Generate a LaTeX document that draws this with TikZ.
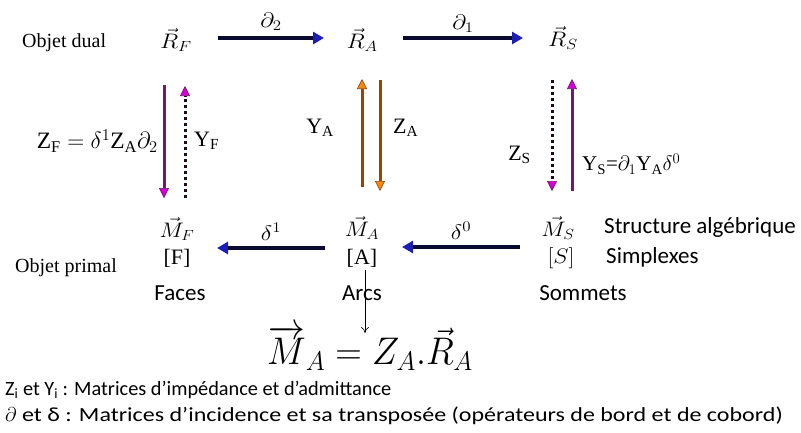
\documentclass[tikz,border=0pt]{standalone}
\usepackage{fix-cm}
\usepackage{fontspec}
\setmainfont{Liberation Serif}
\newfontfamily\calfont{Carlito}
\newfontfamily\calwide[FakeStretch=1.2]{Carlito}
\usetikzlibrary{arrows.meta,calc}
\definecolor{navyline}{HTML}{0A0A30}
\definecolor{bluetip}{HTML}{1E1EB4}
\definecolor{purpline}{HTML}{701870}
\definecolor{magtip}{HTML}{D400D4}
\definecolor{orline}{HTML}{9A4404}
\definecolor{ortip}{HTML}{F08A10}
\definecolor{dotcol}{HTML}{1A0A1A}
\tikzset{
  harrow/.style={line width=3.4pt, draw=navyline, -{Triangle[length=11pt,width=12pt,color=bluetip]}},
  purparrow/.style={line width=3pt, draw=purpline, -{Triangle[length=10pt,width=10pt,color=purpline,fill=magtip,line width=0.6pt]}},
  dotarrow/.style={line width=3pt, draw=dotcol, dash pattern=on 3pt off 3pt, -{Triangle[length=10pt,width=10pt,color=purpline,fill=magtip,line width=0.6pt]}},
  orarrow/.style={line width=3pt, draw=orline, -{Triangle[length=10pt,width=10pt,color=orline,fill=ortip,line width=0.6pt]}},
  mathlbl/.style={inner sep=0pt, font=\fontsize{21}{24}\selectfont},
  serlbl/.style={inner sep=0pt, font=\fontsize{22}{25}\selectfont},
  objlbl/.style={inner sep=0pt, anchor=west, font=\fontsize{20}{23}\selectfont},
  callbl/.style={inner sep=0pt, font=\calfont\fontsize{23}{26}\selectfont},
  notelbl/.style={inner sep=0pt, anchor=west, font=\calfont\fontsize{20.3}{24}\selectfont},
}
\begin{document}
\begin{tikzpicture}[x=1pt,y=-1pt]
\useasboundingbox (0,0) rectangle (801,432);
% top row
\node[objlbl] (dual) at (22,43) {Objet dual};
\node[mathlbl] (RF) at (176,40) {\scalebox{1.15}[1]{$\vec{R}_F$}};
\node[mathlbl] (RA) at (362,40) {\scalebox{1.15}[1]{$\vec{R}_A$}};
\node[mathlbl] (RS) at (563,38) {\scalebox{1.15}[1]{$\vec{R}_S$}};
% bottom row
\node[objlbl] (primal) at (15,268) {Objet primal};
\node[mathlbl] (MF) at (177,229) {\scalebox{1.1}[1]{$\vec{M}_F$}};
\node[mathlbl] (MA) at (362,228) {\scalebox{1.1}[1]{$\vec{M}_A$}};
\node[mathlbl] (MS) at (558,228) {\scalebox{1.1}[1]{$\vec{M}_S$}};
\node[serlbl] (FF) at (177,258) {[F]};
\node[serlbl] (FA) at (362,258) {[A]};
\node[mathlbl] (FS) at (561,258) {\scalebox{1.1}[1]{$[S]$}};
\node[callbl] (faces) at (180,293) {Faces};
\node[callbl] (arcs) at (362,293) {Arcs};
\node[callbl] (sommets) at (583,293) {Sommets};
\node[callbl, anchor=west] (struct) at (604,227) {Structure algébrique};
\node[callbl, anchor=west] (simpl) at (606,257) {Simplexes};
% horizontal arrows
\draw[harrow] ($(RF)+(42,-2)$) -- node[mathlbl, above=6pt] (d2) {\scalebox{1.15}[1]{$\partial_2$}} ($(RA)+(-38,-2)$);
\draw[harrow] ($(RA)+(41,-2)$) -- node[mathlbl, above=4pt] (d1) {\scalebox{1.15}[1]{$\partial_1$}} ($(RS)+(-40,0)$);
\draw[harrow] ($(MA)+(-37,20)$) -- node[mathlbl, above=6pt] (del1) {\scalebox{1.15}[1]{$\delta^1$}} ($(MF)+(40,19)$);
\draw[harrow] ($(MS)+(-38,19)$) -- node[mathlbl, above=6pt] (del0) {\scalebox{1.15}[1]{$\delta^0$}} ($(MA)+(40,19)$);
% vertical arrows left
\draw[purparrow] ($(RF)+(-12,45)$) -- ($(MF)+(-13,-31)$);
\draw[dotarrow] ($(MF)+(8,-31)$) -- ($(RF)+(9,46)$);
\node[inner sep=0pt, anchor=east, font=\fontsize{23.5}{26}\selectfont] (zf) at (158,141) {$\mathrm{Z_F}=\delta^1\mathrm{Z_A}\partial_2$};
\node[serlbl, anchor=west] (yf) at (194,141) {Y\textsubscript{F}};
% middle
\draw[orarrow] ($(MA)+(0,-41)$) -- ($(RA)+(0,39)$);
\draw[orarrow] ($(RA)+(18,40)$) -- ($(MA)+(18,-37)$);
\node[serlbl, anchor=east] (ya) at (334,128) {Y\textsubscript{A}};
\node[serlbl, anchor=west] (za) at (393,128) {Z\textsubscript{A}};
% right
\draw[dotarrow] ($(RS)+(-11,42)$) -- ($(MS)+(-6,-37)$);
\draw[purparrow] ($(MS)+(14,-37)$) -- ($(RS)+(9,41)$);
\node[serlbl, anchor=east] (zs) at (531,155) {Z\textsubscript{S}};
\node[inner sep=0pt, anchor=west, font=\fontsize{21}{24}\selectfont] (ys) at (582,164) {Y\textsubscript{S}=$\partial_1$Y\textsubscript{A}$\delta^0$};
% equation
\node[inner sep=0pt, font=\fontsize{35}{40}\selectfont] (eq) at (370,348) {\scalebox{1.05}[1.1]{$\overrightarrow{M}_A = Z_A.\vec{R}_A$}};
\draw[-{To[length=6pt,width=8pt]}, line width=0.6pt] ($(FA)+(3,12)$) -- ($(FA)+(3,75)$);
% notes
\node[notelbl] (n1) at (5,390) {Z\textsubscript{i} et Y\textsubscript{i} : Matrices d’impédance et d’admittance};
\node[notelbl, font=\calwide\fontsize{20}{23}\selectfont] (n2) at (5,416) {$\partial$ et δ : Matrices d’incidence et sa transposée (opérateurs de bord et de cobord)};
\end{tikzpicture}
\end{document}
